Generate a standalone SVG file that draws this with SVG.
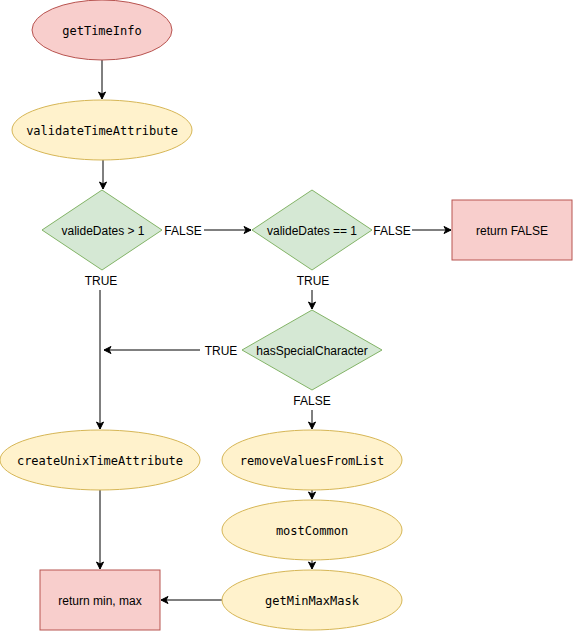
<svg xmlns="http://www.w3.org/2000/svg" width="573" height="631" viewBox="0 0 573 631">
<defs>
<marker id="arr" markerWidth="10" markerHeight="10" refX="8" refY="5" orient="auto" markerUnits="userSpaceOnUse">
<path d="M1,1.5 L8,5 L1,8.5 L3,5 Z" fill="#000" stroke="#000" stroke-width="1"/>
</marker>
<style>
.red{fill:#f8cecc;stroke:#b85450;stroke-width:1}
.yel{fill:#fff2cc;stroke:#d6b656;stroke-width:1}
.grn{fill:#d5e8d4;stroke:#82b366;stroke-width:1}
.mono{font-family:"DejaVu Sans Mono",monospace;font-size:12px;fill:#000;text-anchor:middle;dominant-baseline:central}
.sans{font-family:"Liberation Sans",Arial,sans-serif;font-size:12px;fill:#000;text-anchor:middle;dominant-baseline:central}
.edge{stroke:#000;stroke-width:1;fill:none}
.lbl{font-family:"Liberation Sans",Arial,sans-serif;font-size:12px;fill:#000;text-anchor:middle;dominant-baseline:central}
</style>
</defs>
<rect width="573" height="631" fill="#fff"/>
<g id="connectors">
<line class="edge" x1="102" y1="60" x2="102" y2="99" marker-end="url(#arr)"/>
<line class="edge" x1="103" y1="160" x2="103" y2="189" marker-end="url(#arr)"/>
<line class="edge" x1="204" y1="230" x2="251" y2="230" marker-end="url(#arr)"/>
<line class="edge" x1="412" y1="230" x2="451" y2="230" marker-end="url(#arr)"/>
<line class="edge" x1="312" y1="290" x2="312" y2="309" marker-end="url(#arr)"/>
<line class="edge" x1="200" y1="350" x2="104" y2="350" marker-end="url(#arr)"/>
<line class="edge" x1="100" y1="290" x2="100" y2="429" marker-end="url(#arr)"/>
<line class="edge" x1="312" y1="410" x2="312" y2="429" marker-end="url(#arr)"/>
<line class="edge" x1="312" y1="490" x2="312" y2="499" marker-end="url(#arr)"/>
<line class="edge" x1="312" y1="560" x2="312" y2="569" marker-end="url(#arr)"/>
<line class="edge" x1="100" y1="490" x2="100" y2="569" marker-end="url(#arr)"/>
<line class="edge" x1="222" y1="600" x2="161" y2="600" marker-end="url(#arr)"/>
<text class="lbl" x="183" y="231">FALSE</text>
<text class="lbl" x="392" y="231">FALSE</text>
<text class="lbl" x="101" y="281">TRUE</text>
<text class="lbl" x="313" y="281">TRUE</text>
<text class="lbl" x="221" y="351">TRUE</text>
<text class="lbl" x="312" y="401">FALSE</text>
</g>
<g id="getTimeInfo">
<ellipse class="red" cx="102" cy="30" rx="70" ry="30"/>
<text class="mono" x="102" y="31">getTimeInfo</text>
</g>
<g id="validateTimeAttribute">
<ellipse class="yel" cx="102" cy="130" rx="90" ry="30"/>
<text class="mono" x="102" y="131">validateTimeAttribute</text>
</g>
<g id="validDatesGt1">
<polygon class="grn" points="102,190 162,230 102,270 42,230"/>
<text class="sans" x="103" y="231">valideDates &gt; 1</text>
</g>
<g id="validDatesEq1">
<polygon class="grn" points="312,190 372,230 312,270 252,230"/>
<text class="sans" x="312" y="231">valideDates == 1</text>
</g>
<g id="returnFalse">
<rect class="red" x="452" y="200" width="120" height="60"/>
<text class="sans" x="512" y="231">return FALSE</text>
</g>
<g id="hasSpecialCharacter">
<polygon class="grn" points="312,310 382,350 312,390 242,350"/>
<text class="sans" x="312" y="351">hasSpecialCharacter</text>
</g>
<g id="createUnixTimeAttribute">
<ellipse class="yel" cx="100" cy="460" rx="100" ry="30"/>
<text class="mono" x="100" y="461">createUnixTimeAttribute</text>
</g>
<g id="removeValuesFromList">
<ellipse class="yel" cx="312" cy="460" rx="90" ry="30"/>
<text class="mono" x="312" y="461">removeValuesFromList</text>
</g>
<g id="mostCommon">
<ellipse class="yel" cx="312" cy="530" rx="90" ry="30"/>
<text class="mono" x="312" y="531">mostCommon</text>
</g>
<g id="getMinMaxMask">
<ellipse class="yel" cx="312" cy="600" rx="90" ry="30"/>
<text class="mono" x="312" y="601">getMinMaxMask</text>
</g>
<g id="returnMinMax">
<rect class="red" x="40" y="570" width="120" height="60"/>
<text class="sans" x="100" y="601">return min, max</text>
</g>
</svg>
